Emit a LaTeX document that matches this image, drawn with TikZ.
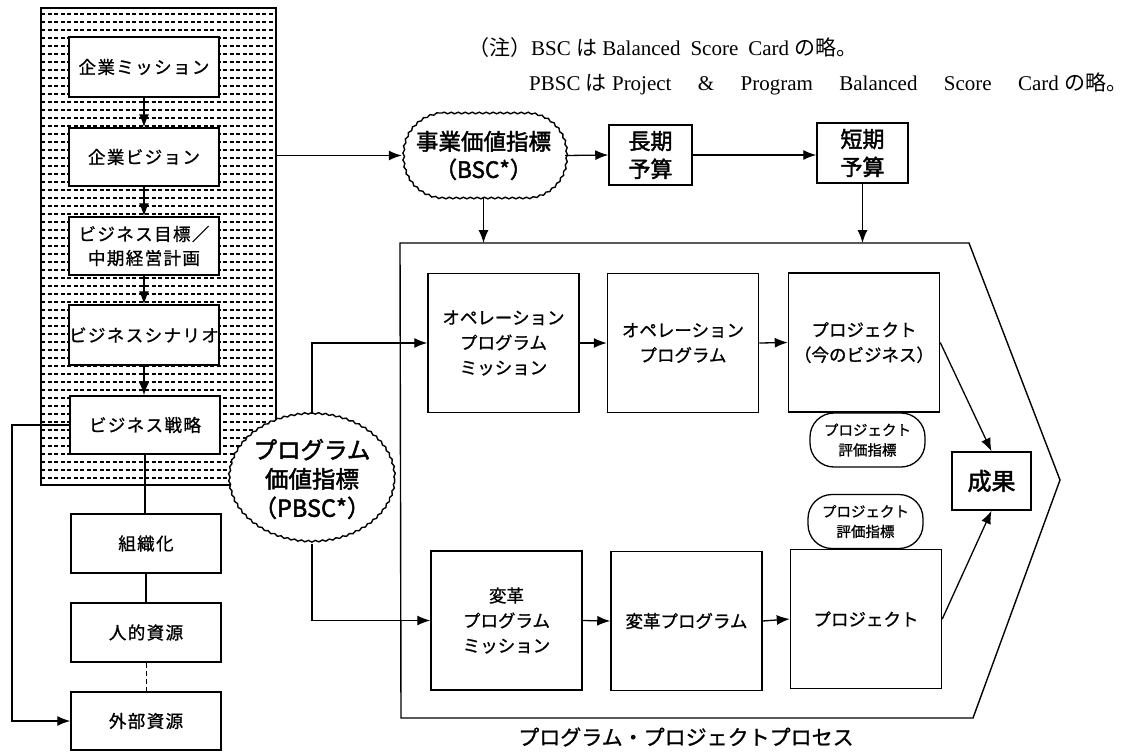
\documentclass[tikz,border=0pt]{standalone}
\usepackage{fontspec}
\setmainfont{Liberation Serif}
\newfontfamily\jp{Noto Sans CJK JP}
\newfontfamily\jpm[FakeBold=1]{Noto Sans CJK JP}
\newfontfamily\jpb[FakeBold=2]{Noto Sans CJK JP}
\newfontfamily\jpw[LetterSpace=8,FakeBold=1]{Noto Sans CJK JP}
\usetikzlibrary{arrows.meta,decorations.pathmorphing,shapes.geometric}
\begin{document}
\begin{tikzpicture}[x=1pt,y=-1pt,
  arr/.style={line width=1.3pt,-{Latex[length=13pt,width=10pt]}},
  ln/.style={line width=1.3pt},
  lbox/.style={draw,line width=1.5pt,fill=white,inner sep=0pt,align=center,
    minimum width=150pt,font=\jpw\fontsize{17.5}{24}\selectfont},
  ibox/.style={draw,line width=1.5pt,fill=white,inner sep=0pt,align=center,
    minimum width=151pt,minimum height=139pt,font=\jpm\fontsize{17.5}{25}\selectfont},
  bbox/.style={draw,line width=1.5pt,fill=white,inner sep=0pt,align=center,
    font=\jpb\fontsize{22}{28}\selectfont},
  wavy/.style={decorate,decoration={snake,amplitude=0.8pt,segment length=7pt}},
  evbox/.style={draw,line width=1.3pt,fill=white,inner sep=0pt,align=center,
    rounded corners=24pt,minimum width=115pt,minimum height=54pt,
    font=\jpm\fontsize{14.5}{20}\selectfont},
  note/.style={anchor=west,inner sep=0pt,font=\fontsize{21}{24}\selectfont}]
\useasboundingbox (0,0) rectangle (1133,753);
\fill[white] (0,0) rectangle (1133,753);

% shaded panel
\begin{scope}
  \clip (41,8) rectangle (276,485);
  \foreach \yy in {14,22,...,484} {
    \draw[line width=1.3pt,dash pattern=on 4pt off 2.5pt] (41,\yy) -- (276,\yy);
  }
\end{scope}
\draw[line width=1.4pt] (41,8) rectangle (276,485);

% left column
\node[lbox,minimum height=60pt] (m1) at (144,67) {企業ミッション};
\node[lbox,minimum height=58pt] (m2) at (144,157) {企業ビジョン};
\node[lbox,minimum height=58pt] (m3) at (144,246) {ビジネス目標／\\中期経営計画};
\node[lbox,minimum height=60pt] (m4) at (144,335) {ビジネスシナリオ};
\node[lbox,minimum height=58pt] (m5) at (145,425) {ビジネス戦略};
\node[lbox,minimum height=59pt] (r1) at (146,543.5) {組織化};
\node[lbox,minimum height=59pt] (r2) at (146,632.5) {人的資源};
\node[lbox,minimum height=58pt] (r3) at (146,721) {外部資源};

\draw[arr] (m1.south) -- (m1.south |- m2.north);
\draw[arr] (m2.south) -- (m2.south |- m3.north);
\draw[arr] (m3.south) -- (m3.south |- m4.north);
\draw[arr] (m4.south) -- (m4.south |- m5.north);
\draw[ln] (m5.south) -- (m5.south |- r1.north);
\draw[ln] (r1.south) -- (r1.south |- r2.north);
\draw[line width=1pt,dash pattern=on 5pt off 3pt] (r2.south) -- (r2.south |- r3.north);
\coordinate (lft) at (12,0);
\draw[arr] (m5.west) -- (m5.west -| lft) |- (r3.west);

% top row
\draw[line width=1.4pt,wavy] (442,113) -- (525,113) .. controls (547,113) and (565,131) .. (565,153)
  -- (565,158) .. controls (565,180) and (547,198) .. (525,198) -- (442,198)
  .. controls (420,198) and (402,180) .. (402,158) -- (402,153)
  .. controls (402,131) and (420,113) .. (442,113) -- cycle;
\node[inner sep=0pt,align=center,minimum width=163pt,minimum height=85pt,
  font=\jpb\fontsize{22.5}{28}\selectfont] (bsc) at (483.5,155.5) {事業価値指標\\（BSC*）};
\node[bbox,minimum width=83pt,minimum height=60pt] (choki) at (650.5,155) {長期\\予算};
\node[bbox,minimum width=91pt,minimum height=60pt] (tanki) at (862.5,153) {短期\\予算};
\coordinate (pe) at (276,155.5);
\draw[arr] (pe) -- (bsc.west);
\draw[arr] (bsc.east) -- (choki.west);
\draw[arr] (choki.east) -- (choki.east -| tanki.west);

% process pentagon
\draw[line width=1.4pt] (400,243) -- (969,243) -- (1060,480) -- (973,718) -- (401,718) -- cycle;
\coordinate (ptop) at (0,243);
\draw[arr] (bsc.south) -- (bsc.south |- ptop);
\draw[arr] (tanki.south) -- (tanki.south |- ptop);

% inner boxes
\node[ibox] (opm) at (503.5,343) {オペレーション\\プログラム\\ミッション};
\node[ibox] (op) at (683,343) {オペレーション\\プログラム};
\node[ibox] (pj1) at (864,342.5) {プロジェクト\\（今のビジネス）};
\node[ibox] (hm) at (506.5,620.5) {変革\\プログラム\\ミッション};
\node[ibox] (hp) at (686.5,621) {変革プログラム};
\node[ibox] (pj2) at (866,619) {プロジェクト};
\node[evbox] (ev1) at (867.5,440) {プロジェクト\\評価指標};
\node[evbox] (ev2) at (865.5,521.5) {プロジェクト\\評価指標};
\node[bbox,minimum width=79pt,minimum height=58pt,font=\jpb\fontsize{24}{28}\selectfont] (seika) at (991.5,481) {成果};

\draw[arr] (opm.east) -- (op.west);
\draw[arr] (op.east) -- (pj1.west);
\draw[arr] (hm.east) -- (hp.west);
\draw[arr] (hp.east) -- (pj2.west);
\draw[arr] (pj1.east) -- (seika.north);
\draw[arr] (pj2.east) -- (seika.south);

% PBSC
\node[ellipse,draw,line width=1.4pt,fill=white,inner sep=0pt,align=center,
  minimum width=150pt,minimum height=128pt,wavy,
  font=\jpb\fontsize{23.5}{29}\selectfont] (pbsc) at (312,479) {プログラム\\価値指標\\（PBSC*）};
\draw[arr] (pbsc.north) |- (opm.west);
\draw[arr] (pbsc.south) |- (hm.west);

% labels
\node[font=\jpm\fontsize{21}{24}\selectfont] (lab) at (686,737) {プログラム・プロジェクトプロセス};
\node[note] (n1) at (468,48) {{\jp （注）}\makebox[352pt][l]{BSC {\jp は} Balanced\hspace{10pt}Score\hspace{10pt}Card {\jp の略。}}};
\node[note] (n2) at (529,84) {\makebox[598pt]{PBSC {\jp は} Project\hfill\&\hfill Program\hfill Balanced\hfill Score\hfill Card {\jp の略。}}};
\end{tikzpicture}
\end{document}
